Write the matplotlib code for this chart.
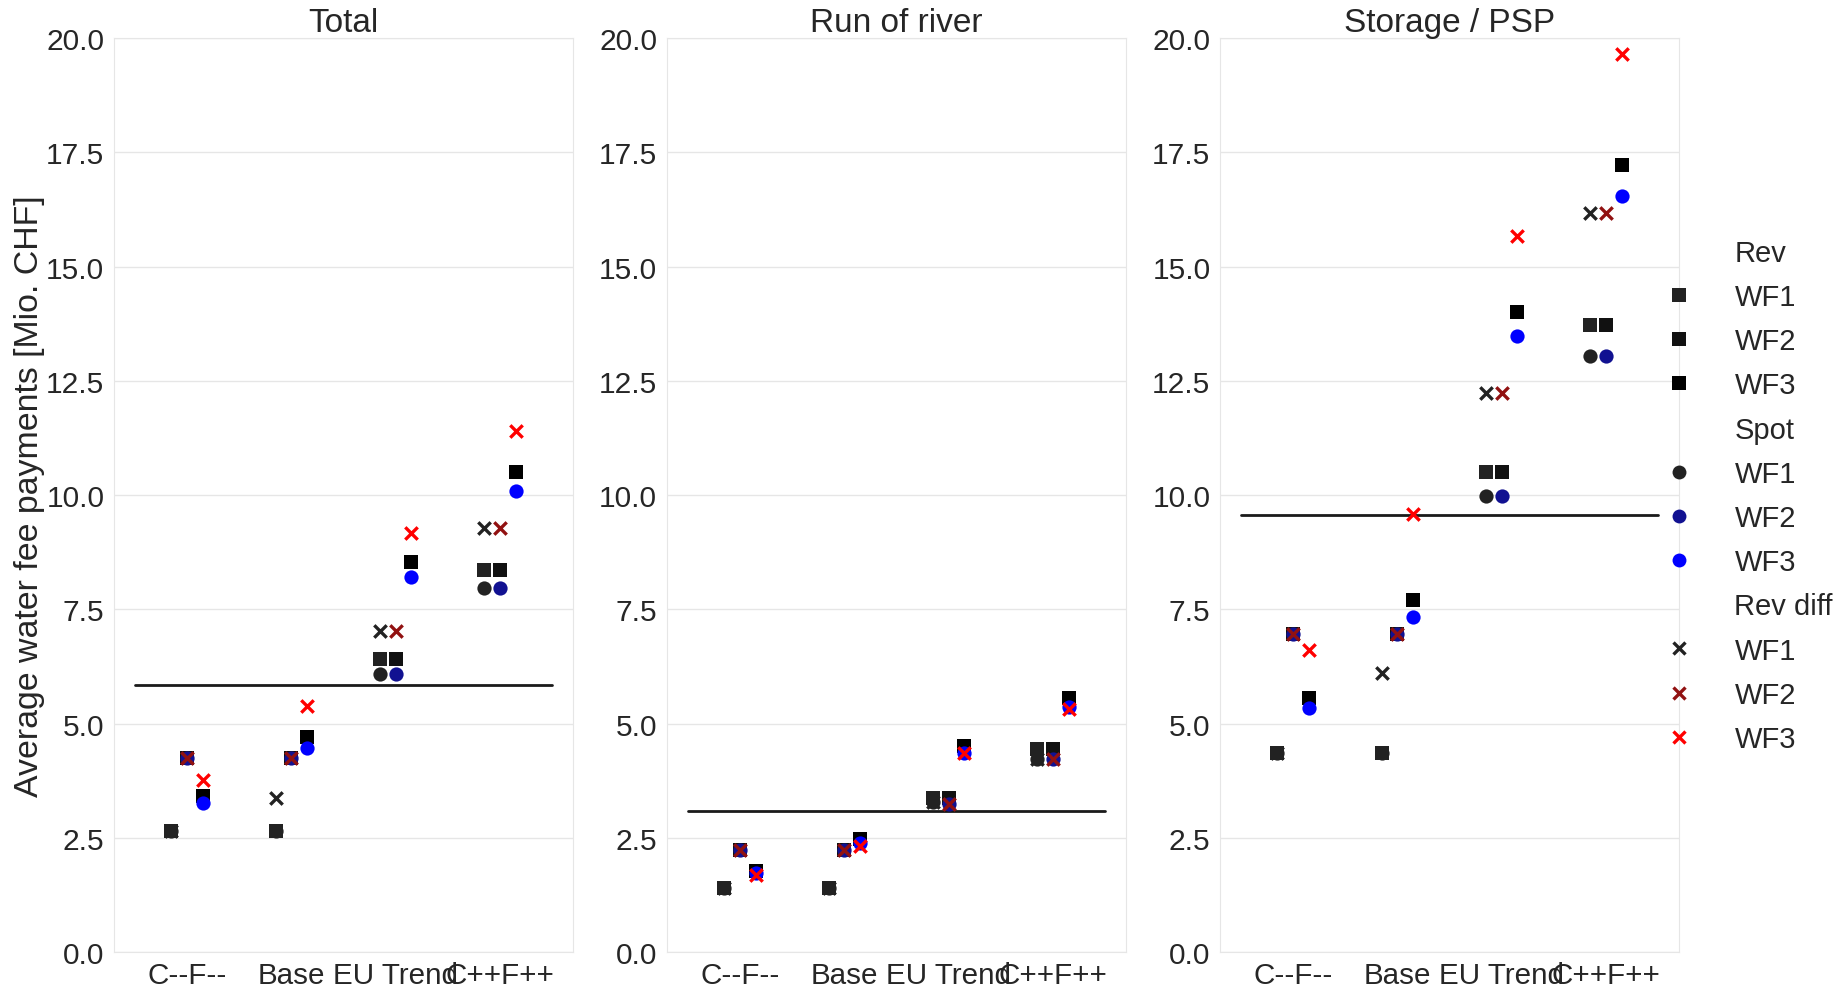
import numpy as np
import matplotlib
matplotlib.use("Agg")
import matplotlib.pyplot as plt
import seaborn as sns
from matplotlib.lines import Line2D

sns.set_style("whitegrid")
plt.rcParams['font.family'] = ['Liberation Sans', 'DejaVu Sans']

# scenarios on the x axis and water fee variants (hue)
scenarios = ['C--F--', 'Base', 'EU Trend', 'C++F++']
variants = ['WF1', 'WF2', 'WF3']
panel_titles = ['Total', 'Run of river', 'Storage / PSP']

# average payments [Mio. CHF], rows = scenarios, cols = WF1..WF3
total_rev = [[2.65, 4.25, 3.41], [2.65, 4.25, 4.70], [6.41, 6.41, 8.53], [8.37, 8.37, 10.51]]
total_spot = [[2.65, 4.25, 3.26], [2.65, 4.25, 4.47], [6.08, 6.08, 8.21], [7.96, 7.96, 10.09]]
total_diff = [[2.65, 4.25, 3.77], [3.38, 4.25, 5.39], [7.03, 7.03, 9.16], [9.27, 9.27, 11.40]]
total_ref = 5.84

ror_rev = [[1.40, 2.24, 1.77], [1.40, 2.24, 2.47], [3.38, 3.38, 4.51], [4.45, 4.45, 5.56]]
ror_spot = [[1.40, 2.24, 1.73], [1.40, 2.24, 2.38], [3.28, 3.24, 4.35], [4.22, 4.22, 5.36]]
ror_diff = [[1.40, 2.24, 1.69], [1.40, 2.24, 2.31], [3.28, 3.24, 4.35], [4.22, 4.22, 5.32]]
ror_ref = 3.09

sto_rev = [[4.35, 6.96, 5.56], [4.35, 6.96, 7.71], [10.50, 10.50, 14.00], [13.73, 13.73, 17.22]]
sto_spot = [[4.35, 6.96, 5.33], [4.35, 6.96, 7.34], [9.97, 9.97, 13.47], [13.05, 13.05, 16.54]]
sto_diff = [[4.35, 6.96, 6.61], [6.10, 6.96, 9.58], [12.23, 12.23, 15.67], [16.17, 16.17, 19.65]]
sto_ref = 9.57

panels = [
    (total_rev, total_spot, total_diff, total_ref),
    (ror_rev, ror_spot, ror_diff, ror_ref),
    (sto_rev, sto_spot, sto_diff, sto_ref),
]

# colour ramps per payment type
rev_colors = sns.blend_palette(['#222222', '#000000'], 3)
spot_colors = sns.blend_palette(['#222222', '#0000ff'], 3)
diff_colors = sns.blend_palette(['#222222', '#ff0000'], 3)

kinds = [
    ('Rev', 's', rev_colors),
    ('Spot', 'o', spot_colors),
    ('Rev diff', 'x', diff_colors),
]

offsets = np.array([-0.15, 0.0, 0.15])
xpos = np.arange(len(scenarios))

fig = plt.figure(figsize=(18.45, 9.87), dpi=100)
lefts = [0.0618, 0.3615, 0.6613]
axes = [fig.add_axes([l, 0.0344, 0.2488, 0.9261]) for l in lefts]

for ax, title, data in zip(axes, panel_titles, panels):
    ref = data[3]
    ax.plot([-0.5, 3.5], [ref, ref], color='0.1', lw=2, zorder=2)
    for (name, marker, colors), vals in zip(kinds, data[:3]):
        vals = np.array(vals)
        for j in range(len(variants)):
            if marker == 'x':
                ax.scatter(xpos + offsets[j], vals[:, j], marker='x', s=80,
                           color=colors[j], linewidths=2.4, zorder=3)
            else:
                ax.scatter(xpos + offsets[j], vals[:, j], marker=marker, s=105,
                           color=colors[j], linewidths=0, zorder=3)

    ax.set_xlim(-0.7, 3.7)
    ax.set_ylim(0, 20)
    ax.set_xticks(xpos)
    ax.set_xticklabels(scenarios, fontsize=21.3)
    ax.set_yticks(np.arange(0, 20.01, 2.5))
    ax.set_yticklabels([f'{v:.1f}' for v in np.arange(0, 20.01, 2.5)], fontsize=21.5)
    ax.tick_params(axis='x', pad=3)
    ax.grid(False, axis='x')
    ax.grid(True, axis='y', color='#e6e6e6', lw=1)
    for sp in ax.spines.values():
        sp.set_color('#e6e6e6')
    ax.set_title(title, fontsize=24, pad=5)

axes[0].set_ylabel('Average water fee payments [Mio. CHF]', fontsize=24.4, labelpad=1)

# legend with group headings
handles, labels = [], []
for name, marker, colors in kinds:
    handles.append(Line2D([], [], linestyle='none', marker=None))
    labels.append(name)
    for j, wf in enumerate(variants):
        if marker == 'x':
            h = Line2D([], [], linestyle='none', marker='x', markersize=8,
                       color=colors[j], markeredgewidth=2.4)
        else:
            h = Line2D([], [], linestyle='none', marker=marker, markersize=10,
                       color=colors[j], markeredgewidth=0)
        handles.append(h)
        labels.append(wf)

fig.legend(handles, labels, loc='center left', bbox_to_anchor=(0.880, 0.4965),
           frameon=False, fontsize=21, labelspacing=0.555, handletextpad=0.9)

fig.savefig('out.png', dpi=100)
